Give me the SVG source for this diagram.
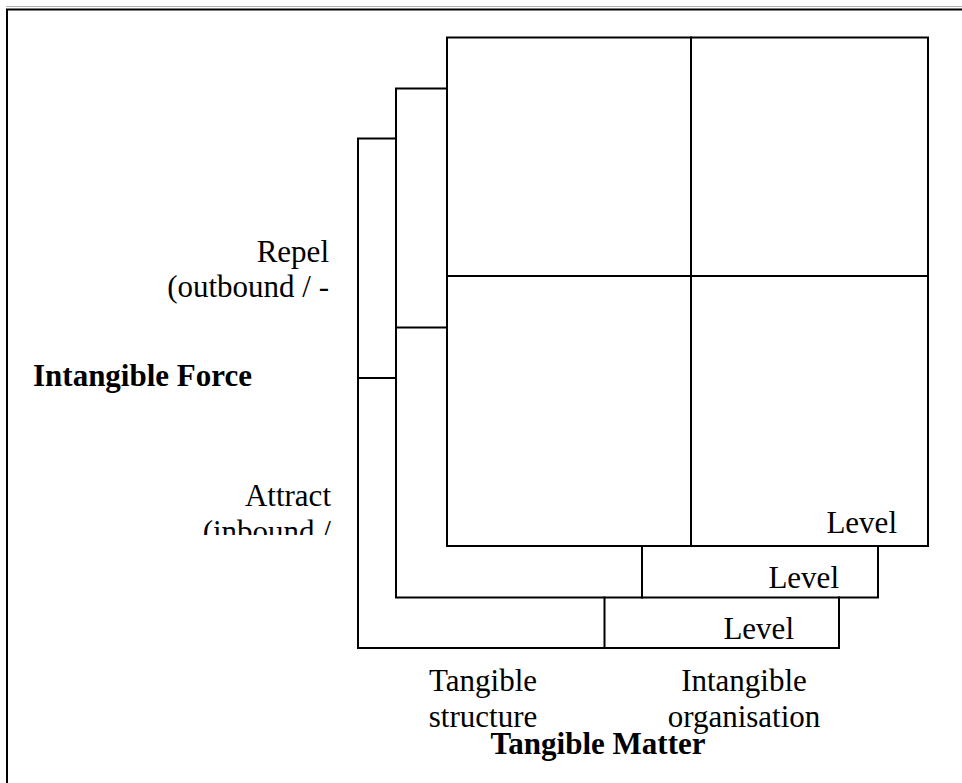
<svg xmlns="http://www.w3.org/2000/svg" width="962" height="783" viewBox="0 0 962 783">
<style>
.ln{fill:none;stroke:#000;stroke-width:2;stroke-linecap:square}
.t{font-family:"Liberation Serif","Times New Roman",serif;font-size:31px;fill:#000}
.b{font-weight:bold}
</style>
<defs>
<clipPath id="clipAttract"><rect x="0" y="440" width="357" height="95"/></clipPath>
</defs>
<rect width="962" height="783" fill="#fff"/>
<g id="frame">
<line x1="6" y1="6.5" x2="962" y2="6.5" stroke="#b0b0b0" stroke-width="1"/>
<path class="ln" d="M7,783 V9.5 H962"/>
</g>
<g id="connectors">
<path class="ln" d="M447,88.5 H396 V597.5 H878 V546"/>
<line class="ln" x1="642" y1="546" x2="642" y2="597.5"/>
<line class="ln" x1="396" y1="327.5" x2="447" y2="327.5"/>
<path class="ln" d="M396,138.5 H358 V648 H839 V597.5"/>
<line class="ln" x1="604.5" y1="597.5" x2="604.5" y2="648"/>
<line class="ln" x1="358" y1="378" x2="396" y2="378"/>
</g>
<g id="main-square">
<rect class="ln" x="447" y="37.5" width="481" height="508.5"/>
<line class="ln" x1="691" y1="37.5" x2="691" y2="546"/>
<line class="ln" x1="447" y1="276" x2="928" y2="276"/>
<text class="t" x="897" y="532.5" text-anchor="end">Level</text>
</g>
<g id="middle-level">
<text class="t" x="839" y="588" text-anchor="end">Level</text>
</g>
<g id="outer-level">
<text class="t" x="794" y="639" text-anchor="end">Level</text>
</g>
<g id="repel">
<text class="t" x="329" y="262" text-anchor="end">Repel</text>
<text class="t" x="329" y="297" text-anchor="end">(outbound / -</text>
</g>
<g id="intangible-force">
<text class="t b" x="252" y="386" text-anchor="end">Intangible Force</text>
</g>
<g id="attract" clip-path="url(#clipAttract)">
<text class="t" x="331" y="506" text-anchor="end">Attract</text>
<text class="t" x="331" y="542" text-anchor="end">(inbound /</text>
</g>
<g id="tangible-structure">
<text class="t" x="483" y="691" text-anchor="middle">Tangible</text>
<text class="t" x="483" y="727" text-anchor="middle">structure</text>
</g>
<g id="intangible-organisation">
<text class="t" x="744" y="691" text-anchor="middle">Intangible</text>
<text class="t" x="744" y="727" text-anchor="middle">organisation</text>
</g>
<g id="tangible-matter">
<text class="t b" x="598" y="754" text-anchor="middle">Tangible Matter</text>
</g>
</svg>
